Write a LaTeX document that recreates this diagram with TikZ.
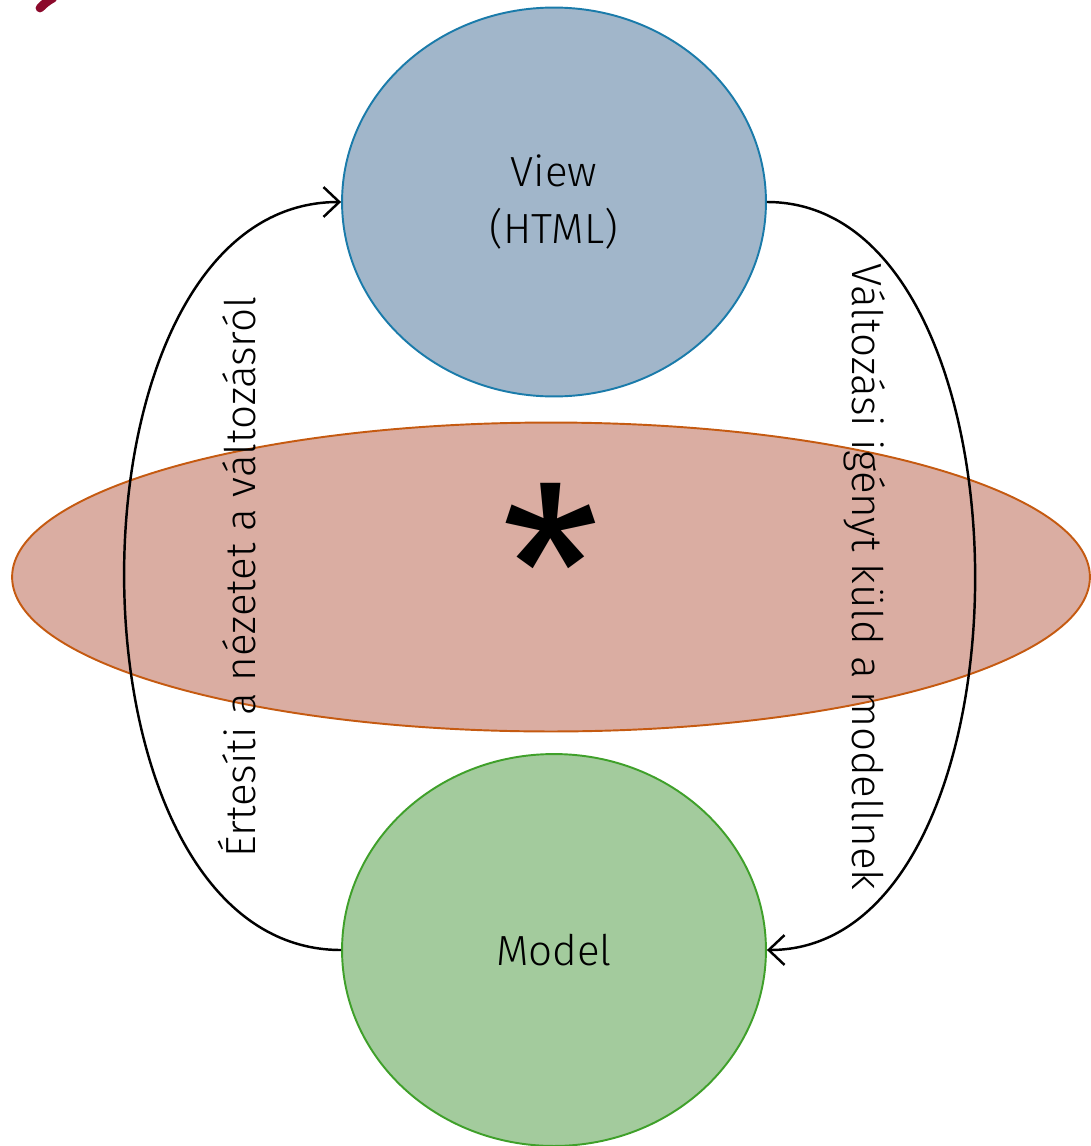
\documentclass[tikz,border=0pt]{standalone}
\usepackage{fontspec}
\setmainfont{Fira Sans}[UprightFont=* Light]
\newfontfamily\starfont{Fira Sans}
\usetikzlibrary{shapes.geometric,arrows.meta}

\definecolor{viewfill}{HTML}{A1B6CA}
\definecolor{viewline}{HTML}{1A7BAA}
\definecolor{ctrlfill}{HTML}{DAADA2}
\definecolor{ctrlline}{HTML}{C55A11}
\definecolor{modelfill}{HTML}{A3CB9D}
\definecolor{modelline}{HTML}{3FA02A}
\definecolor{titlered}{HTML}{8C0A2C}

\tikzset{
	part/.style={shape=ellipse, inner sep=0pt, line width=1.1pt},
	flow/.style={line width=1.4pt, ->},
	caption/.style={font=\fontsize{24}{29}\selectfont, inner sep=0pt},
}

\begin{document}
\begin{tikzpicture}[x=0.02cm, y=-0.02cm, >={Straight Barb[length=9pt, width=17pt, line width=1.4pt]}]
			\useasboundingbox (0,0) rectangle (1090,1146);
			\draw[titlered, line width=5pt, line cap=round] (40,8) to[bend left=8] (53,-2);
			
			\node[part, fill=viewfill, draw=viewline, minimum width=8.48cm, minimum height=7.78cm, align=center, caption] (view) at (554,202) {View\\[3pt](HTML)};
			\node[part, fill=ctrlfill, draw=ctrlline, minimum width=21.56cm, minimum height=6.18cm, font=\starfont\fontsize{128}{128}\selectfont, text depth=12pt] (ctrl) at (551,577) {*};
			\node[part, fill=modelfill, draw=modelline, minimum width=8.48cm, minimum height=7.84cm, caption] (model) at (554,950) {Model};
			
			\path [flow] (model.west) edge[out=180, in=180, looseness=0.99] (view.west);
			\path [flow] (view.east) edge[out=0, in=0, looseness=0.95] (model.east);
			
			\node[caption, rotate=90] (notify) at (237,577) {Értesíti a nézetet a változásról};
			\node[caption, rotate=-90] (request) at (865,577) {Változási igényt küld a modellnek};
		\end{tikzpicture}
\end{document}
